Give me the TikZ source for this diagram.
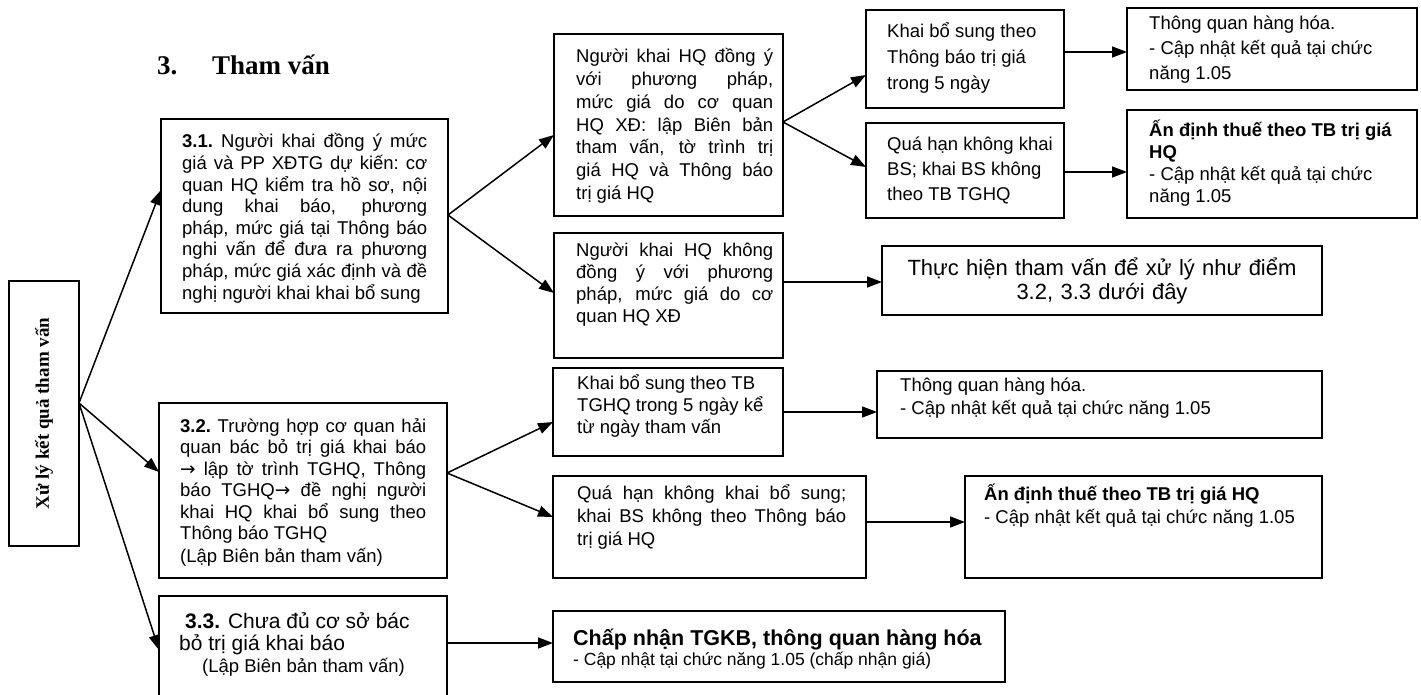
\documentclass[tikz,border=0pt]{standalone}
\usepackage{fontspec}
\setmainfont{Liberation Sans}
\newfontfamily\tnr{Liberation Serif}
\newfontfamily\djv{DejaVu Sans}
\usetikzlibrary{arrows.meta,calc}
\newcommand\J[2]{{\spaceskip=\fontdimen2\font plus 1fil\xspaceskip=\spaceskip\makebox[#1][s]{#2}}}
\newcommand\ns{\spaceskip=0pt\xspaceskip=0pt\relax}
\newcommand\fs[2]{\fontsize{#1pt}{#2pt}\selectfont}
\newcommand\mkbox[5]{\node[box,minimum width={(#4)-(#2)},minimum height={(#5)-(#3)}] (#1) at ({((#2)+(#4))/2},{((#3)+(#5))/2}) {};}
\begin{document}
\begin{tikzpicture}[x=1pt,y=-1pt,
  box/.style={draw,line width=1.7pt,inner sep=0pt,outer sep=0pt},
  arr/.style={line width=1.5pt,-{Triangle[length=15pt,width=11pt]}},
  txt/.style={inner sep=0pt,anchor=base west,align=left,text width=#1},
  txt/.default=300pt,
  nf/.style={font=\fs{18.5}{#1}},
]
\useasboundingbox (0,0) rectangle (1421,695);

% title
\node[anchor=base west,inner sep=0pt,font=\tnr\bfseries\fs{27}{30}] (title) at (157,75) {\makebox[55pt][l]{3.}Tham vấn};

% boxes
\mkbox{L}{9}{281}{79}{546}
\node[rotate=90,inner sep=0pt,font=\tnr\bfseries\fs{19}{22}] (Lt) at (L.center) {Xử lý kết quả tham vấn};

\mkbox{b31}{161}{119}{448}{313}
\mkbox{b32}{159}{403}{447}{578}
\mkbox{b33}{159}{596}{447}{730}

\mkbox{bmt}{554}{34}{783}{216}
\mkbox{bm2}{554}{233}{783}{358}
\mkbox{bk2}{553}{368}{783}{456}
\mkbox{bq2}{553}{476}{866}{578}
\mkbox{bcn}{553}{611}{1005}{682}

\mkbox{bk1}{866}{10}{1064}{108}
\mkbox{bq1}{866}{123}{1064}{218}
\mkbox{bt1}{1127}{8}{1417}{90}
\mkbox{ba1}{1127}{110}{1417}{218}

\mkbox{bth}{882}{246}{1322}{315}
\mkbox{bt2}{877}{371}{1322}{438}
\mkbox{ba2}{965}{476}{1322}{578}

% texts
\node[txt=245pt,nf=21.6] (b31t) at (182,148) {\ns
\J{245pt}{\textbf{3.1.} Người khai đồng ý mức}\\
\J{245pt}{giá và PP XĐTG dự kiến: cơ}\\
\J{245pt}{quan HQ kiểm tra hồ sơ, nội}\\
\J{245pt}{dung khai báo, phương}\\
\J{245pt}{pháp, mức giá tại Thông báo}\\
\J{245pt}{nghi vấn để đưa ra phương}\\
\J{245pt}{pháp, mức giá xác định và đề}\\
nghị người khai khai bổ sung};

\node[txt=197pt,nf=22.7] (bmtt) at (576,63) {\ns
\J{197pt}{Người khai HQ đồng ý}\\
\J{197pt}{với phương pháp,}\\
\J{197pt}{mức giá do cơ quan}\\
\J{197pt}{HQ XĐ: lập Biên bản}\\
\J{197pt}{tham vấn, tờ trình trị}\\
\J{197pt}{giá HQ và Thông báo}\\
trị giá HQ};

\node[txt=197pt,nf=22] (bm2t) at (576,256) {\ns
\J{197pt}{Người khai HQ không}\\
\J{197pt}{đồng ý với phương}\\
\J{197pt}{pháp, mức giá do cơ}\\
quan HQ XĐ};

\node[txt=180pt,nf=26] (bk1t) at (887,38) {\ns Khai bổ sung theo\\Thông báo trị giá\\trong 5 ngày};
\node[txt=260pt,nf=25] (bt1t) at (1149,30) {\ns Thông quan hàng hóa.\\- Cập nhật kết quả tại chức\\năng 1.05};
\node[txt=180pt,nf=25] (bq1t) at (887,151) {\ns Quá hạn không khai\\BS; khai BS không\\theo TB TGHQ};
\node[txt=260pt,nf=21.7] (ba1t) at (1149,137) {\ns\textbf{Ấn định thuế theo TB trị giá}\\\textbf{HQ}\\- Cập nhật kết quả tại chức\\năng 1.05};

\node[inner sep=0pt,align=center,text width=430pt,font=\fs{22}{24}] (btht) at (bth.center) {Thực hiện tham vấn để xử lý như điểm\\3.2, 3.3 dưới đây};

\node[txt=200pt,nf=22] (bk2t) at (577,389) {\ns Khai bổ sung theo TB\\TGHQ trong 5 ngày kể\\từ ngày tham vấn};
\node[txt=420pt,nf=23] (bt2t) at (900,391) {\ns Thông quan hàng hóa.\\- Cập nhật kết quả tại chức năng 1.05};
\node[txt=269pt,nf=23] (bq2t) at (577,499) {\ns
\J{269pt}{Quá hạn không khai bổ sung;}\\
\J{269pt}{khai BS không theo Thông báo}\\
trị giá HQ};
\node[txt=340pt,nf=23] (ba2t) at (984,500) {\ns\textbf{Ấn định thuế theo TB trị giá HQ}\\- Cập nhật kết quả tại chức năng 1.05};

\node[txt=246pt,nf=21.5] (b32t) at (180,432) {\ns
\J{246pt}{\textbf{3.2.} Trường hợp cơ quan hải}\\
\J{246pt}{quan bác bỏ trị giá khai báo}\\
\J{246pt}{{\djv →} lập tờ trình TGHQ, Thông}\\
\J{246pt}{báo TGHQ{\djv →} đề nghị người}\\
\J{246pt}{khai HQ khai bổ sung theo}\\
Thông báo TGHQ\\[1.5pt]
(Lập Biên bản tham vấn)};

\node[txt=260pt,font=\fs{21}{22}] (b33t) at (179,628) {\ns
\hspace*{6pt}\textbf{3.3.} Chưa đủ cơ sở bác\\
bỏ trị giá khai báo\\
{\fs{18.5}{22}\hspace*{23pt}(Lập Biên bản tham vấn)}};

\node[txt=420pt,font=\fs{17.5}{20.5}] (bcnt) at (573,645) {\ns
{\fs{21.5}{24}\textbf{Chấp nhận TGKB, thông quan hàng hóa}}\\
- Cập nhật tại chức năng 1.05 (chấp nhận giá)};

% connectors
\draw[arr] ([yshift=10.5pt]L.east) -- ([yshift=26pt]b31.west);
\draw[arr] ([yshift=10.5pt]L.east) -- ([yshift=18.5pt]b32.west);
\draw[arr] ([yshift=10.5pt]L.east) -- ([yshift=13pt]b33.west);

\draw[arr] ([yshift=1pt]b31.east) -- ([yshift=-10pt]bmt.west);
\draw[arr] ([yshift=1pt]b31.east) -- ([yshift=2.5pt]bm2.west);

\draw[arr] ([yshift=3pt]bmt.east) -- ([yshift=-16pt]bk1.west);
\draw[arr] ([yshift=3pt]bmt.east) -- ([yshift=3.5pt]bq1.west);

\draw[arr] (bk1.east |- 0,52) -- (bt1.west |- 0,52);
\draw[arr] (bq1.east |- 0,172) -- (ba1.west |- 0,172);
\draw[arr] (bm2.east |- 0,282) -- (bth.west |- 0,282);

\draw[arr] ([yshift=17.5pt]b32.east) -- ([yshift=-10pt]bk2.west);
\draw[arr] ([yshift=17.5pt]b32.east) -- ([yshift=10pt]bq2.west);

\draw[arr] (bk2.east |- 0,412) -- (bt2.west |- 0,412);
\draw[arr] (bq2.east |- 0,522) -- (ba2.west |- 0,522);
\draw[arr] (b33.east |- 0,643) -- (bcn.west |- 0,643);
\end{tikzpicture}
\end{document}
